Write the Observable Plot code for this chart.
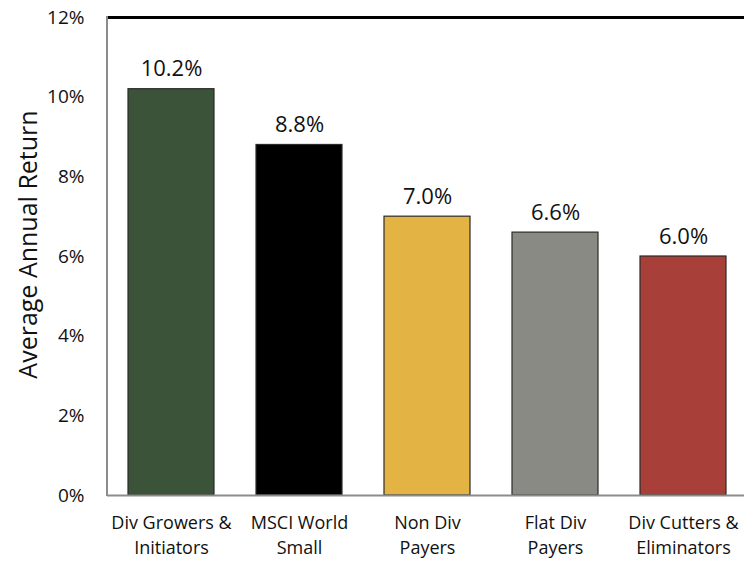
<!DOCTYPE html>
<html>
<head>
<meta charset="utf-8">
<script src="https://cdn.jsdelivr.net/npm/d3@7"></script>
<script src="https://cdn.jsdelivr.net/npm/@observablehq/plot@0.6"></script>
<style>
  html, body { margin: 0; padding: 0; background: #fff; }
  #chart { width: 744px; height: 561px; overflow: hidden; }
  svg { font-family: "Open Sans", sans-serif; }
</style>
</head>
<body>
<div id="chart"></div>
<script>
const categories = ["Div Growers &\nInitiators", "MSCI World\nSmall", "Non Div\nPayers", "Flat Div\nPayers", "Div Cutters &\nEliminators"];
const returns = [10.2, 8.8, 7.0, 6.6, 6.0];
const colors = ["#3b5339", "#000000", "#e3b343", "#8a8a84", "#a83f39"];
const yTicks = [0, 2, 4, 6, 8, 10, 12];
const yTitle = "Average Annual Return";

const data = categories.map((c, i) => ({cat: c, value: returns[i], color: colors[i]}));

const chart = Plot.plot({
  width: 744,
  height: 561,
  marginLeft: 107,
  marginRight: 0,
  marginTop: 17,
  marginBottom: 66,
  style: {fontFamily: "Open Sans, sans-serif", background: "#fff", overflow: "visible"},
  x: {domain: categories, range: [107, 747], paddingInner: 0.33, paddingOuter: 0.165, axis: null},
  y: {domain: [0, 12], axis: null},
  marks: [
    Plot.barY(data, {x: "cat", y: "value", fill: "color", stroke: "#2a2a2a", strokeWidth: 1.2}),
    Plot.ruleY([12], {stroke: "#000", strokeWidth: 3}),
    Plot.ruleY([0], {stroke: "#8c8c8c", strokeWidth: 2}),
    Plot.axisY(yTicks, {tickSize: 0, tickPadding: 23, tickFormat: d => d + "%", fontSize: 19, fill: "#111", label: null}),
    Plot.text(data, {x: "cat", y: "value", text: d => d.value.toFixed(1) + "%", dy: -20, fontSize: 22, fill: "#111"}),
    Plot.text(data, {x: "cat", y: 0, text: "cat", dy: 38, fontSize: 18, lineHeight: 1.42, fill: "#111"}),
    Plot.text([yTitle], {frameAnchor: "left", textAnchor: "middle", dx: -79, dy: -12, rotate: -90, fontSize: 25, fill: "#111"})
  ]
});

const svg = d3.select(chart);
svg.append("line")
  .attr("x1", 107).attr("x2", 107)
  .attr("y1", 16).attr("y2", 496)
  .attr("stroke", "#8c8c8c").attr("stroke-width", 2);

document.getElementById("chart").appendChild(chart);
</script>
</body>
</html>
